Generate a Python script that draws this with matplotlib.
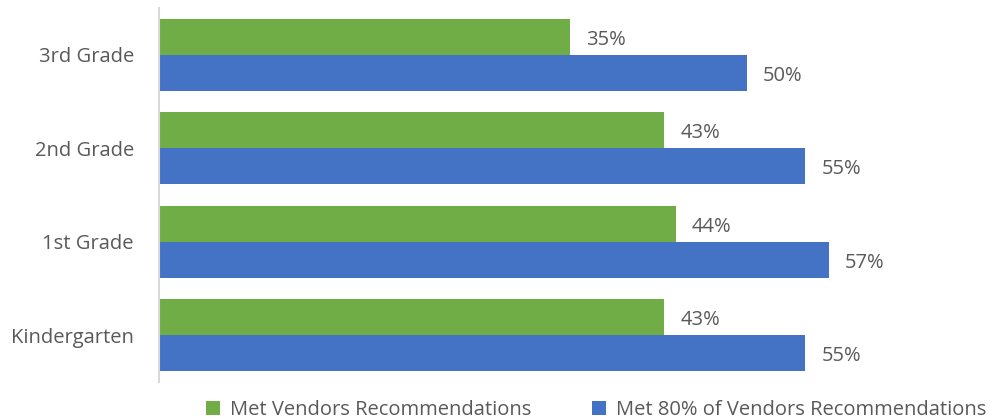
import matplotlib
matplotlib.use('Agg')
import matplotlib.pyplot as plt
import numpy as np

# data
grades = ['Kindergarten', '1st Grade', '2nd Grade', '3rd Grade']
met_vendors = [43, 44, 43, 35]
met_80pct = [55, 57, 55, 50]
series_names = ['Met Vendors Recommendations', 'Met 80% of Vendors Recommendations']

plt.rcParams['font.family'] = ['Open Sans', 'DejaVu Sans']

GREEN = '#70AD47'
BLUE = '#4472C4'
TEXT = '#595959'

fig = plt.figure(figsize=(9.98, 4.19), dpi=100)
ax = fig.add_axes([159 / 998, 1 - 382 / 419, (978 - 159) / 998, (382 - 8) / 419])

y = np.arange(len(grades))
h = 0.385
b1 = ax.barh(y + h / 2, met_vendors, height=h, color=GREEN, label=series_names[0])
b2 = ax.barh(y - h / 2, met_80pct, height=h, color=BLUE, label=series_names[1])

# 数据标签
for bars in (b1, b2):
    for bar in bars:
        w = bar.get_width()
        ax.annotate('%d%%' % w, (w, bar.get_y() + bar.get_height() / 2),
                    xytext=(16, -3), textcoords='offset pixels',
                    va='center', ha='left', fontsize=14.5, color=TEXT)

ax.set_xlim(0, 69.7)
ax.set_ylim(-0.5, 3.5)
ax.set_yticks(y)
ax.set_yticklabels(grades, fontsize=14.5, color=TEXT)
ax.tick_params(axis='y', length=0, pad=18)
ax.set_xticks([])
for s in ['top', 'right', 'bottom']:
    ax.spines[s].set_visible(False)
ax.spines['left'].set_color('#D9D9D9')
ax.spines['left'].set_linewidth(1.5)

fig.legend(handles=[b1, b2], loc='lower center', ncol=2, frameon=False,
           bbox_to_anchor=(0.597, -0.045), fontsize=14.5, handlelength=0.7,
           handleheight=0.7, columnspacing=3.0, handletextpad=0.5,
           labelcolor=TEXT)

fig.savefig('out.png', dpi=100)
